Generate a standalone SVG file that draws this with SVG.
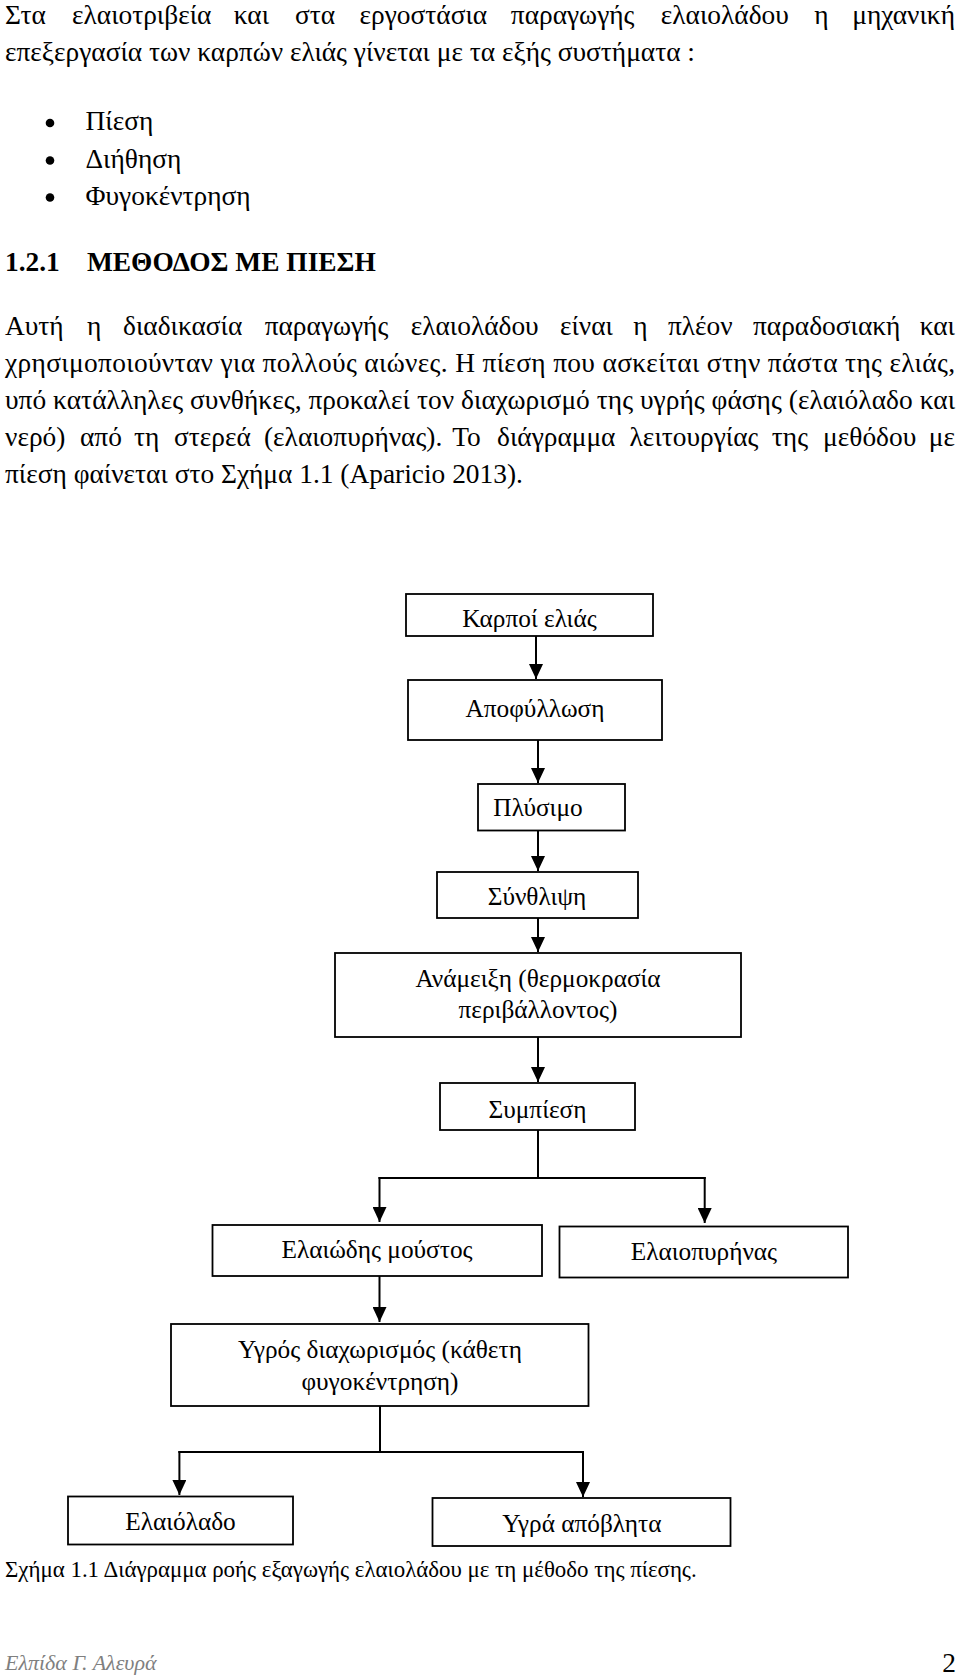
<svg xmlns="http://www.w3.org/2000/svg" width="960" height="1678" viewBox="0 0 960 1678">
<style>
text{font-family:"Liberation Serif","Times New Roman",serif;fill:#000}
.b{font-size:27.4px}
.h{font-size:27.4px;font-weight:bold}
.n{font-size:25.3px;text-anchor:middle}
.e{text-anchor:end}
.cap{font-size:22.9px}
.ft{font-size:22px;font-style:italic;fill:#7f7f7f}
.box{fill:#fff;stroke:#000;stroke-width:1.8}
.ln{fill:none;stroke:#000;stroke-width:2}
.ar{fill:none;stroke:#000;stroke-width:2;marker-end:url(#ah)}
</style>
<defs>
<marker id="ah" markerUnits="userSpaceOnUse" markerWidth="15" markerHeight="14" refX="15" refY="7" orient="auto" viewBox="0 0 15 14">
<path d="M0,0 L15,7 L0,14 z" fill="#000"/>
</marker>
</defs>
<rect width="960" height="1678" fill="#fff"/>
<g id="intro">
<text class="b" y="24"><tspan x="5">Στα</tspan><tspan x="72">ελαιοτριβεία</tspan><tspan x="233.8">και</tspan><tspan x="295.1">στα</tspan><tspan x="359.6">εργοστάσια</tspan><tspan x="510.8">παραγωγής</tspan><tspan x="660.8">ελαιολάδου</tspan><tspan x="814.2">η</tspan></text>
<text class="b e" x="955" y="24">μηχανική</text>
<text class="b" x="5" y="61">επεξεργασία των καρπών ελιάς γίνεται με τα εξής συστήματα :</text>
<circle cx="50" cy="123" r="4.3" fill="#000"/>
<circle cx="50" cy="160.5" r="4.3" fill="#000"/>
<circle cx="50" cy="197.5" r="4.3" fill="#000"/>
<text class="b" x="85.5" y="130">Πίεση</text>
<text class="b" x="85.5" y="167.5">Διήθηση</text>
<text class="b" x="85.5" y="204.5">Φυγοκέντρηση</text>
<text class="h" y="271"><tspan x="5">1.2.1</tspan><tspan x="87">ΜΕΘΟΔΟΣ ΜΕ ΠΙΕΣΗ</tspan></text>
<text class="b" y="335"><tspan x="5">Αυτή</tspan><tspan x="87.1">η</tspan><tspan x="123">διαδικασία</tspan><tspan x="264.7">παραγωγής</tspan><tspan x="410.7">ελαιολάδου</tspan><tspan x="559.9">είναι</tspan><tspan x="633.2">η</tspan><tspan x="668">πλέον</tspan><tspan x="753">παραδοσιακή</tspan></text>
<text class="b e" x="955" y="335">και</text>
<text class="b" x="5" y="372" textLength="950" lengthAdjust="spacing">χρησιμοποιούνταν για πολλούς αιώνες. Η πίεση που ασκείται στην πάστα της ελιάς,</text>
<text class="b" x="5" y="409" textLength="950" lengthAdjust="spacing">υπό κατάλληλες συνθήκες, προκαλεί τον διαχωρισμό της υγρής φάσης (ελαιόλαδο και</text>
<text class="b" y="446"><tspan x="5">νερό)</tspan><tspan x="80">από</tspan><tspan x="134">τη</tspan><tspan x="174">στερεά</tspan><tspan x="264">(ελαιοπυρήνας).</tspan><tspan x="452.2">Το</tspan><tspan x="497">διάγραμμα</tspan><tspan x="629.6">λειτουργίας</tspan><tspan x="771.8">της</tspan><tspan x="823.1">μεθόδου</tspan></text>
<text class="b e" x="955" y="446">με</text>
<text class="b" x="5" y="483">πίεση φαίνεται στο Σχήμα 1.1 (Aparicio 2013).</text>
</g>
<g id="connectors">
<path class="ar" d="M536,636 V679"/>
<path class="ar" d="M538,740 V783"/>
<path class="ar" d="M538,830.5 V871"/>
<path class="ar" d="M538,918 V952"/>
<path class="ar" d="M538,1037 V1082"/>
<path class="ln" d="M538,1130 V1178 M378.5,1178 H705.7"/>
<path class="ar" d="M379.5,1177 V1222"/>
<path class="ar" d="M704.7,1177 V1223"/>
<path class="ar" d="M379.5,1276 V1322"/>
<path class="ln" d="M380,1406 V1452 M178.4,1452 H584"/>
<path class="ar" d="M179.4,1451 V1495"/>
<path class="ar" d="M583,1451 V1497"/>
</g>
<g id="n1"><rect class="box" x="406" y="594" width="247" height="42"/><text class="n" x="529.5" y="627">Καρποί ελιάς</text></g>
<g id="n2"><rect class="box" x="408" y="680" width="254" height="60"/><text class="n" x="535" y="717">Αποφύλλωση</text></g>
<g id="n3"><rect class="box" x="478" y="784" width="147" height="46.5"/><text class="n" x="538" y="816">Πλύσιμο</text></g>
<g id="n4"><rect class="box" x="437" y="872" width="201" height="46"/><text class="n" x="537" y="905">Σύνθλιψη</text></g>
<g id="n5"><rect class="box" x="335" y="953" width="406" height="84"/><text class="n" x="538" y="987">Ανάμειξη (θερμοκρασία</text><text class="n" x="538" y="1018">περιβάλλοντος)</text></g>
<g id="n6"><rect class="box" x="440" y="1083" width="195" height="47"/><text class="n" x="537.5" y="1118">Συμπίεση</text></g>
<g id="n7"><rect class="box" x="212.5" y="1225" width="329.5" height="51"/><text class="n" x="377" y="1258">Ελαιώδης μούστος</text></g>
<g id="n8"><rect class="box" x="559.5" y="1226.5" width="288.5" height="51"/><text class="n" x="704" y="1260">Ελαιοπυρήνας</text></g>
<g id="n9"><rect class="box" x="171" y="1324" width="417.5" height="82"/><text class="n" x="380" y="1357.5">Υγρός διαχωρισμός (κάθετη</text><text class="n" x="380" y="1389.5">φυγοκέντρηση)</text></g>
<g id="n10"><rect class="box" x="68" y="1496.5" width="225" height="48"/><text class="n" x="180.5" y="1530">Ελαιόλαδο</text></g>
<g id="n11"><rect class="box" x="432.5" y="1498" width="298" height="48"/><text class="n" x="581.8" y="1531.5">Υγρά απόβλητα</text></g>
<g id="caption">
<text class="cap" x="5" y="1577">Σχήμα 1.1 Διάγραμμα ροής εξαγωγής ελαιολάδου με τη μέθοδο της πίεσης.</text>
</g>
<g id="footer">
<text class="ft" x="5" y="1670">Ελπίδα Γ. Αλευρά</text>
<text class="b e" x="956" y="1672">2</text>
</g>
</svg>
